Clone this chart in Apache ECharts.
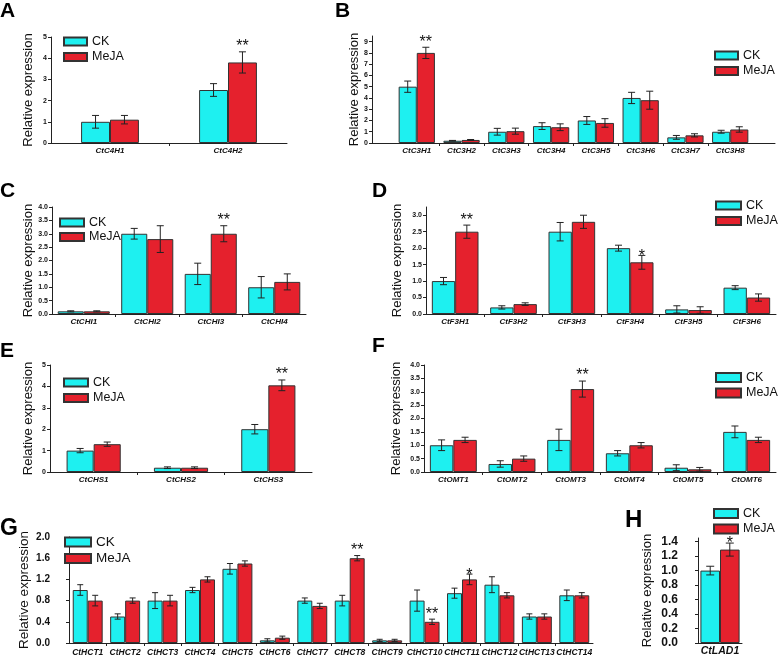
<!DOCTYPE html>
<html>
<head>
<meta charset="UTF-8">
<title></title>
<script src="https://cdn.jsdelivr.net/npm/echarts@6.0.0/dist/echarts.min.js"></script>
<style>
	html, body { margin: 0; padding: 0; background: #fff; }
	#main { width: 778px; height: 658px; }
</style>
</head>
<body>
<div id="main"></div>
<script>
// ---- data ----
// A  C4H
var catA = ['CtC4H1', 'CtC4H2'];
var ckA = [1.0, 2.5];
var ckErrA = [0.3, 0.3];
var mejaA = [1.1, 3.8];
var mejaErrA = [0.2, 0.5];
var sigA = ['', '**'];
var yTicksA = [0, 1, 2, 3, 4, 5];

// B  C3H
var catB = ['CtC3H1', 'CtC3H2', 'CtC3H3', 'CtC3H4', 'CtC3H5', 'CtC3H6', 'CtC3H7', 'CtC3H8'];
var ckB = [5.0, 0.2, 1.0, 1.5, 2.0, 4.0, 0.5, 1.0];
var ckErrB = [0.5, 0.03, 0.3, 0.3, 0.35, 0.5, 0.17, 0.13];
var mejaB = [8.0, 0.27, 1.05, 1.4, 1.78, 3.8, 0.68, 1.2];
var mejaErrB = [0.5, 0.04, 0.27, 0.3, 0.38, 0.8, 0.14, 0.24];
var sigB = ['**', '', '', '', '', '', '', ''];
var yTicksB = [0, 1, 2, 3, 4, 5, 6, 7, 8, 9];

// C  CHI
var catC = ['CtCHI1', 'CtCHI2', 'CtCHI3', 'CtCHI4'];
var ckC = [0.1, 3.0, 1.5, 1.0];
var ckErrC = [0.02, 0.2, 0.4, 0.4];
var mejaC = [0.1, 2.8, 3.0, 1.2];
var mejaErrC = [0.02, 0.5, 0.3, 0.3];
var sigC = ['', '', '**', ''];
var yTicksC = [0, 0.5, 1.0, 1.5, 2.0, 2.5, 3.0, 3.5, 4.0];

// D  F3H
var catD = ['CtF3H1', 'CtF3H2', 'CtF3H3', 'CtF3H4', 'CtF3H5', 'CtF3H6'];
var ckD = [1.0, 0.2, 2.5, 2.0, 0.14, 0.8];
var ckErrD = [0.11, 0.05, 0.28, 0.09, 0.11, 0.06];
var mejaD = [2.5, 0.3, 2.8, 1.57, 0.12, 0.5];
var mejaErrD = [0.2, 0.04, 0.2, 0.21, 0.1, 0.11];
var sigD = ['**', '', '', '*', '', ''];
var yTicksD = [0, 0.5, 1.0, 1.5, 2.0, 2.5, 3.0];

// E  CHS
var catE = ['CtCHS1', 'CtCHS2', 'CtCHS3'];
var ckE = [1.0, 0.2, 2.0];
var ckErrE = [0.1, 0.04, 0.22];
var mejaE = [1.3, 0.2, 4.05];
var mejaErrE = [0.1, 0.04, 0.25];
var sigE = ['', '', '**'];
var yTicksE = [0, 1, 2, 3, 4, 5];

// F  OMT
var catF = ['CtOMT1', 'CtOMT2', 'CtOMT3', 'CtOMT4', 'CtOMT5', 'CtOMT6'];
var ckF = [1.0, 0.3, 1.2, 0.7, 0.16, 1.5];
var ckErrF = [0.2, 0.12, 0.4, 0.1, 0.11, 0.22];
var mejaF = [1.2, 0.5, 3.1, 1.0, 0.1, 1.2];
var mejaErrF = [0.1, 0.1, 0.3, 0.1, 0.07, 0.1];
var sigF = ['', '', '**', '', '', ''];
var yTicksF = [0, 0.5, 1.0, 1.5, 2.0, 2.5, 3.0, 3.5, 4.0];

// G  HCT
var catG = ['CtHCT1', 'CtHCT2', 'CtHCT3', 'CtHCT4', 'CtHCT5', 'CtHCT6', 'CtHCT7',
	'CtHCT8', 'CtHCT9', 'CtHCT10', 'CtHCT11', 'CtHCT12', 'CtHCT13', 'CtHCT14'];
var ckG = [1.0, 0.5, 0.8, 1.0, 1.4, 0.05, 0.8, 0.8, 0.05, 0.8, 0.94, 1.1, 0.5, 0.9];
var ckErrG = [0.1, 0.05, 0.15, 0.05, 0.1, 0.03, 0.05, 0.1, 0.02, 0.2, 0.095, 0.15, 0.05, 0.1];
var mejaG = [0.8, 0.8, 0.8, 1.2, 1.5, 0.1, 0.7, 1.6, 0.05, 0.4, 1.2, 0.9, 0.5, 0.9];
var mejaErrG = [0.1, 0.05, 0.1, 0.05, 0.05, 0.03, 0.05, 0.05, 0.02, 0.05, 0.1, 0.05, 0.05, 0.05];
var sigG = ['', '', '', '', '', '', '', '**', '', '**', '*', '', '', ''];
var yTicksG = [0, 0.4, 0.8, 1.2, 1.6, 2.0];

// H  LAD
var catH = ['CtLAD1'];
var ckH = [1.0];
var ckErrH = [0.06];
var mejaH = [1.29];
var mejaErrH = [0.09];
var sigH = ['*'];
var yTicksH = [0, 0.2, 0.4, 0.6, 0.8, 1.0, 1.2, 1.4];

var CK_COLOR = '#1EF0F0';
var MEJA_COLOR = '#E5212D';
var FONT = 'Liberation Sans';

var option = {
	animation: false,
	backgroundColor: '#fff',
	title: [], legend: [], grid: [], xAxis: [], yAxis: [], series: []
};

function errSeries(i, side, pos, vals, errs, p) {
	return {
		type: 'custom', name: 'err' + side, xAxisIndex: i, yAxisIndex: i, silent: true, z: 5,
		data: vals.map(function (v, k) { return [pos[k], v, errs[k]]; }),
		renderItem: function (params, api) {
			var x = api.value(0), v = api.value(1), e = api.value(2);
			var bw = api.size([1, 0])[0] * p.fill / 2;
			var cx = api.coord([x, v])[0] + side * bw / 2;
			var yt = api.coord([x, v + e])[1];
			var yb = api.coord([x, v - e])[1];
			var c = p.cap;
			var st = { stroke: '#222', lineWidth: 1 };
			var kids = [
				{ type: 'line', shape: { x1: cx, y1: yt, x2: cx, y2: yb }, style: st },
				{ type: 'line', shape: { x1: cx - c, y1: yt, x2: cx + c, y2: yt }, style: st },
				{ type: 'line', shape: { x1: cx - c, y1: yb, x2: cx + c, y2: yb }, style: st }
			];
			var s = side > 0 ? p.sig[params.dataIndex] : '';
			if (s) {
				// asterisks sit high in their text box, so the box may reach the error cap
				var drop = s.length === 1 ? 9 : 3;
				kids.push({
					type: 'text',
					style: { text: s, x: cx, y: yt + drop, align: 'center', verticalAlign: 'bottom',
						font: p.starSize + 'px "' + FONT + '"', fill: '#111' }
				});
			}
			return { type: 'group', children: kids };
		}
	};
}

function addPanel(p) {
	var i = option.grid.length;
	var pos = p.cats.map(function (c, k) { return k + 1; });
	var between = pos.slice(0, -1).map(function (v) { return v + 0.5; });

	option.title.push({
		text: p.letter, left: p.title[0], top: p.title[1], padding: 0,
		textStyle: { fontFamily: FONT, fontWeight: 'bold', fontSize: p.titleSize, color: '#000' }
	});
	option.grid.push({ left: p.box[0], top: p.box[1], width: p.box[2], height: p.box[3] });
	option.xAxis.push({
		type: 'value', gridIndex: i, min: p.xRange[0], max: p.xRange[1],
		axisLine: { onZero: false, lineStyle: { color: '#222', width: 1 } },
		axisTick: { show: true, customValues: between, length: 3, lineStyle: { color: '#222' } },
		axisLabel: {
			customValues: pos, margin: p.catMargin, color: '#111',
			fontFamily: FONT, fontSize: p.catSize, fontWeight: 'bold', fontStyle: 'italic',
			formatter: function (v) { return p.cats[Math.round(v) - 1] || ''; }
		},
		splitLine: { show: false }
	});
	option.yAxis.push({
		type: 'value', gridIndex: i, min: 0, max: p.yMax,
		name: 'Relative expression', nameLocation: 'middle', nameRotate: 90, nameGap: p.nameGap,
		nameMoveOverlap: false,
		nameTextStyle: { fontFamily: FONT, fontSize: p.nameSize, color: '#111' },
		axisLine: { show: true, lineStyle: { color: '#222', width: 1 } },
		axisTick: { show: true, customValues: p.yTicks, length: 3, lineStyle: { color: '#222' } },
		axisLabel: {
			customValues: p.yTicks, margin: p.labMargin, color: '#111',
			fontFamily: FONT, fontSize: p.labSize, fontWeight: 'bold',
			formatter: function (v) { return v.toFixed(p.dec); }
		},
		splitLine: { show: false }
	});
	option.legend.push({
		data: ['CK', 'MeJA'], orient: 'vertical', left: p.leg[0], top: p.leg[1], padding: 0,
		icon: 'rect', itemWidth: p.leg[2], itemHeight: p.leg[3], itemGap: p.leg[4],
		textStyle: { fontFamily: FONT, fontSize: p.legSize, color: '#111' }
	});
	var gap = Math.round((1 - p.fill) * 100) + '%';
	option.series.push({
		type: 'bar', name: 'CK', xAxisIndex: i, yAxisIndex: i, barGap: '0%', barCategoryGap: gap,
		data: p.ck.map(function (v, k) { return [pos[k], v]; }),
		itemStyle: { color: CK_COLOR, borderColor: '#333', borderWidth: 1 }
	});
	option.series.push({
		type: 'bar', name: 'MeJA', xAxisIndex: i, yAxisIndex: i, barGap: '0%', barCategoryGap: gap,
		data: p.meja.map(function (v, k) { return [pos[k], v]; }),
		itemStyle: { color: MEJA_COLOR, borderColor: '#333', borderWidth: 1 }
	});
	option.series.push(errSeries(i, -1, pos, p.ck, p.ckErr, p));
	option.series.push(errSeries(i, 1, pos, p.meja, p.mejaErr, p));
}

var small = { titleSize: 21, catSize: 8, catMargin: 4, labSize: 7, labMargin: 4, nameSize: 13, legSize: 12.5, starSize: 16, cap: 3.5 };
function panel(extra) {
	var o = {};
	for (var k in small) o[k] = small[k];
	for (var k2 in extra) o[k2] = extra[k2];
	return o;
}

addPanel(panel({ letter: 'A', title: [0, 1], box: [51, 37, 236, 106], xRange: [0.5, 2.5], yMax: 5, yTicks: yTicksA, dec: 0,
	cats: catA, ck: ckA, ckErr: ckErrA, meja: mejaA, mejaErr: mejaErrA, sig: sigA, fill: 0.49,
	nameGap: 16, leg: [63, 35, 23, 8, 2.5] }));
addPanel(panel({ letter: 'B', title: [335, 1], box: [372, 36, 403, 107], xRange: [0, 9], yMax: 9.5, yTicks: yTicksB, dec: 0,
	cats: catB, ck: ckB, ckErr: ckErrB, meja: mejaB, mejaErr: mejaErrB, sig: sigB, fill: 0.81,
	nameGap: 11, leg: [714, 49, 23, 8, 2.5] }));
addPanel(panel({ letter: 'C', title: [0, 181], box: [52, 207, 254, 107], xRange: [0.5, 4.5], yMax: 4, yTicks: yTicksC, dec: 1,
	cats: catC, ck: ckC, ckErr: ckErrC, meja: mejaC, mejaErr: mejaErrC, sig: sigC, fill: 0.82,
	nameGap: 17, leg: [59, 216, 24, 8, 1.5] }));
addPanel(panel({ letter: 'D', title: [372, 181], box: [426, 207, 350, 107], xRange: [0.5, 6.5], yMax: 3.25, yTicks: yTicksD, dec: 1,
	cats: catD, ck: ckD, ckErr: ckErrD, meja: mejaD, mejaErr: mejaErrD, sig: sigD, fill: 0.8,
	nameGap: 22, leg: [715, 199, 25, 8, 2.5] }));
addPanel(panel({ letter: 'E', title: [0, 341], box: [50, 365, 262, 107], xRange: [0.5, 3.5], yMax: 5, yTicks: yTicksE, dec: 0,
	cats: catE, ck: ckE, ckErr: ckErrE, meja: mejaE, mejaErr: mejaErrE, sig: sigE, fill: 0.62,
	nameGap: 15, leg: [63, 376, 24, 8, 2.5] }));
addPanel(panel({ letter: 'F', title: [372, 336], box: [424, 365, 352, 107], xRange: [0.5, 6.5], yMax: 4, yTicks: yTicksF, dec: 1,
	cats: catF, ck: ckF, ckErr: ckErrF, meja: mejaF, mejaErr: mejaErrF, sig: sigF, fill: 0.8,
	nameGap: 21, leg: [715, 371, 25, 9, 2.5] }));
addPanel(panel({ letter: 'G', title: [0, 517], titleSize: 23, box: [69, 537, 524, 106], xRange: [0.5, 14.5], yMax: 2, yTicks: yTicksG, dec: 1,
	cats: catG, ck: ckG, ckErr: ckErrG, meja: mejaG, mejaErr: mejaErrG, sig: sigG, fill: 0.8,
	catSize: 8.5, catMargin: 5, labSize: 10, labMargin: 19, nameSize: 13.5, nameGap: 38, legSize: 13.5, cap: 3,
	leg: [64, 535, 26, 9, 2.5] }));
addPanel(panel({ letter: 'H', title: [625, 508], titleSize: 24, box: [698, 538, 44, 105], xRange: [0.5, 1.5], yMax: 1.45, yTicks: yTicksH, dec: 1,
	cats: catH, ck: ckH, ckErr: ckErrH, meja: mejaH, mejaErr: mejaErrH, sig: sigH, fill: 0.89,
	catSize: 10.5, catMargin: 3, labSize: 12, labMargin: 20, nameSize: 13, nameGap: 44, cap: 4,
	leg: [713, 507, 24, 9, 2.5] }));

var myChart = echarts.init(document.getElementById('main'));
myChart.setOption(option);
</script>
</body>
</html>
